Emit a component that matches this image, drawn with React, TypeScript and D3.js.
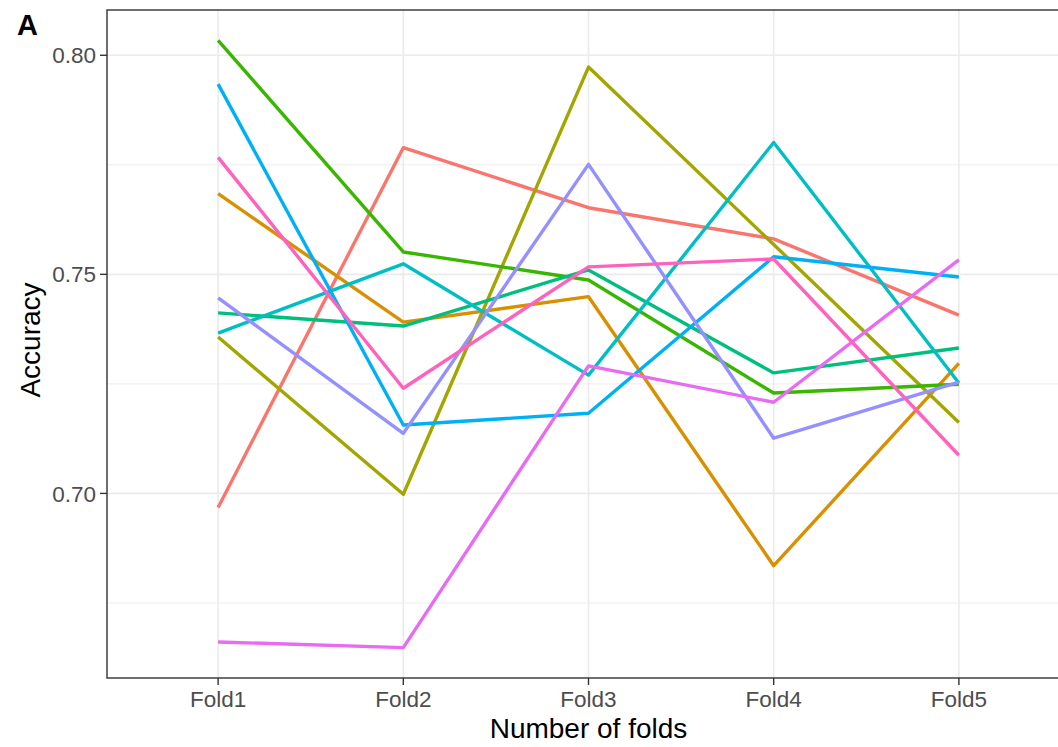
import React, { useEffect, useRef } from 'react';
import * as d3 from 'd3';

// fold names on the x axis
const folds = ['Fold1', 'Fold2', 'Fold3', 'Fold4', 'Fold5'];

// one accuracy series per run
const run1 = [0.6968, 0.7789, 0.7652, 0.7581, 0.7407];
const run2 = [0.7684, 0.7391, 0.7449, 0.6835, 0.7297];
const run3 = [0.7357, 0.6998, 0.7973, 0.7568, 0.7162];
const run4 = [0.8034, 0.7551, 0.7487, 0.7229, 0.7249];
const run5 = [0.7412, 0.7382, 0.7510, 0.7275, 0.7332];
const run6 = [0.7366, 0.7524, 0.7270, 0.7801, 0.7252];
const run7 = [0.7934, 0.7156, 0.7183, 0.7540, 0.7494];
const run8 = [0.7446, 0.7137, 0.7751, 0.7126, 0.7254];
const run9 = [0.6661, 0.6648, 0.7291, 0.7208, 0.7533];
const run10 = [0.7767, 0.7240, 0.7517, 0.7535, 0.7087];

const runs = [run1, run2, run3, run4, run5, run6, run7, run8, run9, run10];

const yTicks = [0.70, 0.75, 0.80];
const yMinor = [0.675, 0.725, 0.775];

// ggplot default hue palette for 10 groups
const colors = ['#F8766D', '#D89000', '#A3A500', '#39B600', '#00BF7D',
  '#00BFC4', '#00B0F6', '#9590FF', '#E76BF3', '#FF62BC'];

const W = 1058;
const H = 747;
const FONT = '"Liberation Sans", Arial, Helvetica, sans-serif';

function App() {
  const ref = useRef<SVGSVGElement>(null);

  useEffect(() => {
    const svg = d3.select(ref.current);
    svg.selectAll('*').remove();

    const left = 107, right = 1070, top = 10, bottom = 678;

    // discrete x axis, 0.6 unit padding each side like ggplot
    const x = d3.scalePoint<string>()
      .domain(folds)
      .range([left, right])
      .padding(0.6);

    const all = runs.flat();
    const lo = d3.min(all) as number;
    const hi = d3.max(all) as number;
    const pad = (hi - lo) * 0.05;
    const y = d3.scaleLinear()
      .domain([lo - pad, hi + pad])
      .range([bottom, top]);

    const g = svg.append('g');

    // panel background + grid
    g.append('rect')
      .attr('x', left).attr('y', top)
      .attr('width', right - left).attr('height', bottom - top)
      .attr('fill', '#fff');

    g.selectAll('.minor')
      .data(yMinor)
      .enter().append('line')
      .attr('x1', left).attr('x2', right)
      .attr('y1', (d) => y(d)).attr('y2', (d) => y(d))
      .attr('stroke', '#EBEBEB').attr('stroke-width', 0.9);

    g.selectAll('.majorY')
      .data(yTicks)
      .enter().append('line')
      .attr('x1', left).attr('x2', right)
      .attr('y1', (d) => y(d)).attr('y2', (d) => y(d))
      .attr('stroke', '#EBEBEB').attr('stroke-width', 1.6);

    g.selectAll('.majorX')
      .data(folds)
      .enter().append('line')
      .attr('x1', (d) => x(d) as number).attr('x2', (d) => x(d) as number)
      .attr('y1', top).attr('y2', bottom)
      .attr('stroke', '#EBEBEB').attr('stroke-width', 1.6);

    // the lines
    const line = d3.line<number>()
      .x((d, i) => x(folds[i]) as number)
      .y((d) => y(d));

    g.selectAll('.run')
      .data(runs)
      .enter().append('path')
      .attr('d', (d) => line(d))
      .attr('fill', 'none')
      .attr('stroke', (d, i) => colors[i])
      .attr('stroke-width', 3.4)
      .attr('stroke-linejoin', 'round');

    // panel border
    g.append('rect')
      .attr('x', left).attr('y', top)
      .attr('width', right - left).attr('height', bottom - top)
      .attr('fill', 'none')
      .attr('stroke', '#333333').attr('stroke-width', 1.4);

    // y axis ticks + labels
    g.selectAll('.ytick')
      .data(yTicks)
      .enter().append('line')
      .attr('x1', left - 7).attr('x2', left)
      .attr('y1', (d) => y(d)).attr('y2', (d) => y(d))
      .attr('stroke', '#333333').attr('stroke-width', 1.4);

    g.selectAll('.ylab')
      .data(yTicks)
      .enter().append('text')
      .attr('x', left - 11)
      .attr('y', (d) => y(d))
      .attr('dy', '0.36em')
      .attr('text-anchor', 'end')
      .attr('fill', '#4D4D4D')
      .style('font-family', FONT)
      .style('font-size', '22.5px')
      .text((d) => d3.format('.2f')(d));

    // x axis ticks + labels
    g.selectAll('.xtick')
      .data(folds)
      .enter().append('line')
      .attr('x1', (d) => x(d) as number).attr('x2', (d) => x(d) as number)
      .attr('y1', bottom).attr('y2', bottom + 7)
      .attr('stroke', '#333333').attr('stroke-width', 1.4);

    g.selectAll('.xlab')
      .data(folds)
      .enter().append('text')
      .attr('x', (d) => x(d) as number)
      .attr('y', bottom + 29)
      .attr('text-anchor', 'middle')
      .attr('fill', '#4D4D4D')
      .style('font-family', FONT)
      .style('font-size', '22.5px')
      .text((d) => d);

    // axis titles
    g.append('text')
      .attr('x', (left + right) / 2)
      .attr('y', 738)
      .attr('text-anchor', 'middle')
      .attr('fill', '#000')
      .style('font-family', FONT)
      .style('font-size', '28px')
      .text('Number of folds');

    g.append('text')
      .attr('transform', `translate(40, ${(top + bottom) / 2 - 4}) rotate(-90)`)
      .attr('text-anchor', 'middle')
      .attr('fill', '#000')
      .style('font-family', FONT)
      .style('font-size', '28px')
      .text('Accuracy');

    // panel tag
    g.append('text')
      .attr('x', 17)
      .attr('y', 35)
      .attr('fill', '#000')
      .style('font-family', FONT)
      .style('font-size', '29px')
      .style('font-weight', 'bold')
      .text('A');
  }, []);

  return (
    <svg
      ref={ref}
      width={W}
      height={H}
      style={{ position: 'absolute', left: 0, top: 0, display: 'block', background: '#fff' }}
    />
  );
}

export default App;
